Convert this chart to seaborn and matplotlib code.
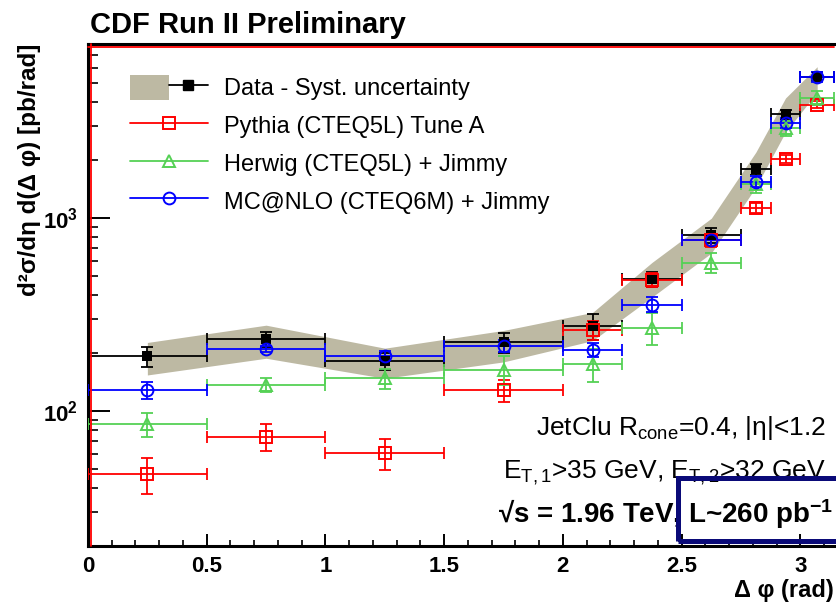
import numpy as np
import pandas as pd
import seaborn as sns
import matplotlib
matplotlib.use('Agg')
import matplotlib.pyplot as plt
import matplotlib.transforms as mtransforms
from matplotlib.lines import Line2D
from matplotlib.patches import Patch, Rectangle
from matplotlib.legend_handler import HandlerTuple
from matplotlib.ticker import MultipleLocator, LogLocator, NullFormatter

# bin edges in delta phi (rad)
bin_edges = [0.0, 0.5, 1.0, 1.5, 2.0, 2.25, 2.5, 2.75, 2.875, 3.0, 3.1416]

# data with stat errors and syst band
data_val = [192, 236, 181, 227, 276, 484, 818, 1800, 3450, 5425]
data_err = [22, 20, 18, 28, 42, 45, 70, 120, 200, 300]
syst_lo = [154, 188, 148, 180, 232, 390, 660, 1450, 2800, 4500]
syst_hi = [227, 279, 212, 262, 325, 590, 1000, 2200, 4200, 6100]

# MC predictions
pythia_val = [47.4, 73.8, 60.7, 128, 264, 480, 770, 1135, 2026, 3880]
pythia_err = [10, 12, 11, 17, 30, 40, 60, 70, 100, 150]
herwig_val = [85.4, 137, 148, 164, 176, 271, 589, 1500, 2925, 4200]
herwig_err = [12, 12, 18, 28, 35, 52, 70, 150, 250, 350]
mcnlo_val = [128, 210, 194, 218, 208, 357, 770, 1550, 3124, 5400]
mcnlo_err = [13, 8, 10, 15, 18, 32, 50, 100, 200, 300]

labels = ['Data - Syst. uncertainty', 'Pythia (CTEQ5L) Tune A',
          'Herwig (CTEQ5L) + Jimmy', 'MC@NLO (CTEQ6M) + Jimmy']

sns.set_style('ticks')
plt.rcParams['font.family'] = ['Liberation Sans', 'DejaVu Sans']
plt.rcParams['mathtext.fontset'] = 'custom'
plt.rcParams['mathtext.rm'] = 'Liberation Sans'
plt.rcParams['mathtext.it'] = 'Liberation Sans:italic'
plt.rcParams['mathtext.bf'] = 'Liberation Sans:bold'
for k in ['text.color', 'axes.labelcolor', 'xtick.color', 'ytick.color']:
    plt.rcParams[k] = 'black'

edges = np.array(bin_edges)
xc = 0.5 * (edges[1:] + edges[:-1])
xw = 0.5 * (edges[1:] - edges[:-1])

df = pd.DataFrame({'x': xc, 'data': data_val})

band_col = '#bdb9a3'
green = '#55d155'

fig = plt.figure(figsize=(8.36, 6.06), dpi=100)
W, H = 836, 606
ax = fig.add_axes([88 / W, (H - 546) / H, (834 - 88) / W, (546 - 44) / H])

ax.fill_between(xc, syst_lo, syst_hi, color=band_col, lw=0, zorder=1)

ekw = dict(fmt='none', capsize=4, elinewidth=1.3, capthick=1.3, zorder=3)
ax.errorbar(xc, data_val, xerr=xw, yerr=data_err, ecolor='k', **ekw)
ax.errorbar(xc, pythia_val, xerr=xw, yerr=pythia_err, ecolor='red', **ekw)
ax.errorbar(xc, herwig_val, xerr=xw, yerr=herwig_err, ecolor=green, **ekw)
ax.errorbar(xc, mcnlo_val, xerr=xw, yerr=mcnlo_err, ecolor='blue', **ekw)

sns.scatterplot(data=df, x='x', y='data', marker='s', s=50, color='k',
                edgecolor='k', linewidth=0, ax=ax, zorder=5, legend=False)
ax.plot(xc, pythia_val, ls='none', marker='s', ms=8.5, mfc='none', mec='red', mew=1.4, zorder=6)
ax.plot(xc, herwig_val, ls='none', marker='^', ms=8, mfc='none', mec=green, mew=1.4, zorder=6)
ax.plot(xc, mcnlo_val, ls='none', marker='o', ms=8.5, mfc='none', mec='blue', mew=1.4, zorder=6)

ax.set_yscale('log')
ax.set_xlim(0, 3.1416)
ax.set_ylim(20, 8000)
ax.xaxis.set_major_locator(MultipleLocator(0.5))
ax.xaxis.set_minor_locator(MultipleLocator(0.1))
ax.set_xticks([0, 0.5, 1, 1.5, 2, 2.5, 3])
ax.set_xticklabels(['0', '0.5', '1', '1.5', '2', '2.5', '3'], fontsize=16, fontweight='bold')
ax.set_yticks([100, 1000])
ax.set_yticklabels([r'$\mathbf{10^{2}}$', r'$\mathbf{10^{3}}$'], fontsize=16)
ax.yaxis.set_minor_locator(LogLocator(base=10, subs=np.arange(2, 10)))
ax.yaxis.set_minor_formatter(NullFormatter())
ax.tick_params(axis='x', which='major', direction='in', length=9, width=1.4, pad=7)
ax.tick_params(axis='x', which='minor', direction='in', length=4.5, width=1.2)
ax.tick_params(axis='y', which='major', direction='in', length=16, width=1.4, pad=7)
ax.tick_params(axis='y', which='minor', direction='in', length=7, width=1.2)

for s in ['left', 'bottom', 'top']:
    ax.spines[s].set_linewidth(2.2)
    ax.spines[s].set_color('k')
ax.spines['right'].set_visible(False)

# thin red frame lines just inside the black frame
tl = mtransforms.offset_copy(ax.transAxes, fig=fig, x=2.5, y=0, units='dots')
tt = mtransforms.offset_copy(ax.transAxes, fig=fig, x=0, y=-2.5, units='dots')
ax.plot([0, 0], [0, 1], transform=tl, color='red', lw=1.3, clip_on=False, zorder=7)
ax.plot([0, 1], [1, 1], transform=tt, color='red', lw=1.3, clip_on=False, zorder=7)

ax.set_ylabel('d²σ/dη d(Δ φ) [pb/rad]', fontsize=17.5, fontweight='bold', loc='top')
ax.yaxis.set_label_coords(-0.063, 1.0)
ax.set_xlabel('Δ φ (rad)', fontsize=17, fontweight='bold', loc='right')
ax.xaxis.set_label_coords(0.999, -0.066)

fig.text(90 / W, 1 - 33 / H, 'CDF Run II Preliminary', fontsize=21, fontweight='bold',
         ha='left', va='baseline')

handles = [
    (Patch(facecolor=band_col, edgecolor='none'),
     Line2D([], [], color='k', marker='s', ms=7, lw=1.3)),
    Line2D([], [], color='red', marker='s', ms=8.5, mfc='none', mew=1.4, lw=1.3),
    Line2D([], [], color=green, marker='^', ms=8, mfc='none', mew=1.4, lw=1.3),
    Line2D([], [], color='blue', marker='o', ms=8.5, mfc='none', mew=1.4, lw=1.3),
]
ax.legend(handles, labels, loc='upper left', bbox_to_anchor=((130 - 88) / 746, 1 - (75 - 44) / 502),
          frameon=False, fontsize=17, handlelength=3.3, handleheight=1.25, labelspacing=0.52,
          handletextpad=0.68, borderpad=0, borderaxespad=0,
          handler_map={tuple: HandlerTuple(ndivide=None)})

fig.text(826 / W, 1 - 435 / H, r'JetClu R$_{\mathrm{cone}}$=0.4, |η|<1.2', fontsize=19,
         ha='right', va='baseline')
fig.text(826 / W, 1 - 478 / H, r'E$_{\mathrm{T,1}}$>35 GeV, E$_{\mathrm{T,2}}$>32 GeV', fontsize=19,
         ha='right', va='baseline')
fig.text(833 / W, 1 - 523 / H, r'√s = 1.96 TeV, L~260 $\mathbf{pb^{-1}}$',
         fontsize=20, fontweight='bold', ha='right', va='baseline')

box = Rectangle((678 / W, 1 - 540.5 / H), 200 / W, 63 / H, transform=fig.transFigure,
                facecolor='none', edgecolor='#0a0a78', lw=3.6, zorder=10)
fig.patches.append(box)

fig.savefig('out.png', dpi=100)
